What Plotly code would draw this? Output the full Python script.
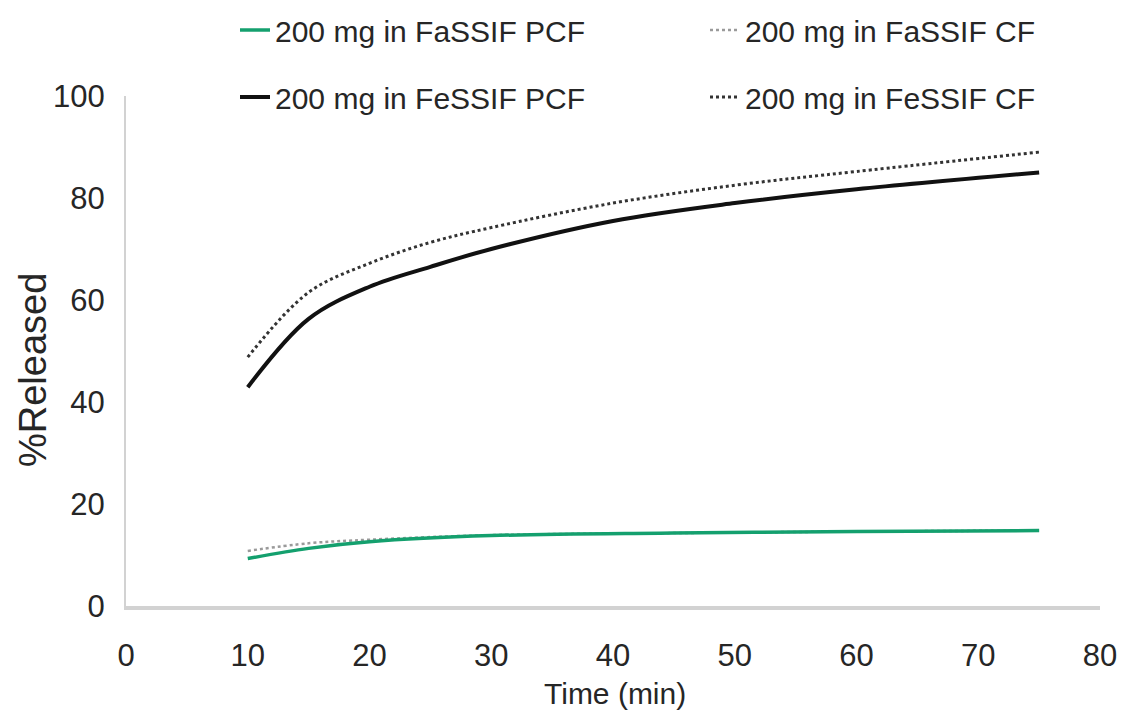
import plotly.graph_objects as go

time_fassif = [10, 15, 20, 30, 45, 60, 75]
fassif_pcf = [9.3, 11.3, 12.6, 13.8, 14.3, 14.6, 14.8]
fassif_cf = [10.8, 12.3, 13.0, 13.9, 14.3, 14.6, 14.8]

time_fessif = [10, 15, 20, 25, 30, 40, 50, 60, 75]
fessif_pcf = [42.9, 56.3, 62.6, 66.5, 70.0, 75.5, 79.0, 81.7, 85.0]
fessif_cf = [48.8, 61.5, 67.2, 71.3, 74.2, 79.0, 82.5, 85.2, 89.0]

x_ticks = [0, 10, 20, 30, 40, 50, 60, 70, 80]
y_ticks = [0, 20, 40, 60, 80, 100]

FONT = "Liberation Sans, Arial"
TXT = "#262626"

fig = go.Figure()
fig.add_trace(go.Scatter(x=time_fassif, y=fassif_cf, mode="lines", name="200 mg in FaSSIF CF",
                         line=dict(color="#9a9a9a", width=2.5, dash="dot", shape="spline"), legend="legend"))
fig.add_trace(go.Scatter(x=time_fassif, y=fassif_pcf, mode="lines", name="200 mg in FaSSIF PCF",
                         line=dict(color="#14a06e", width=3.5, shape="spline"), legend="legend", legendrank=1))
fig.add_trace(go.Scatter(x=time_fessif, y=fessif_cf, mode="lines", name="200 mg in FeSSIF CF",
                         line=dict(color="#333333", width=3, dash="dot", shape="spline"), legend="legend2"))
fig.add_trace(go.Scatter(x=time_fessif, y=fessif_pcf, mode="lines", name="200 mg in FeSSIF PCF",
                         line=dict(color="#111111", width=4, shape="spline"), legend="legend2", legendrank=1))

leg_common = dict(orientation="h", xref="container", yref="container", xanchor="left", yanchor="middle",
                  font=dict(family=FONT, size=30, color=TXT), entrywidthmode="pixels", entrywidth=425,
                  bgcolor="rgba(0,0,0,0)", traceorder="normal")

fig.update_layout(
    width=1122, height=717,
    margin=dict(l=126, r=22, t=96, b=111, autoexpand=False),
    paper_bgcolor="white", plot_bgcolor="white",
    font=dict(family=FONT, size=30, color=TXT),
    legend=dict(x=235/1122, y=1 - 30/717, **leg_common),
    legend2=dict(x=235/1122, y=1 - 97/717, **leg_common),
    xaxis=dict(range=[0, 80], tickvals=x_ticks, showgrid=False, zeroline=False,
               showline=True, linecolor="#d2d2d2", linewidth=4, ticks="",
               tickfont=dict(family=FONT, size=31, color=TXT), ticklabelstandoff=19),
    yaxis=dict(range=[0, 100], tickvals=y_ticks, showgrid=False, zeroline=False,
               showline=True, linecolor="#d2d2d2", linewidth=2, ticks="",
               tickfont=dict(family=FONT, size=31, color=TXT), ticklabelstandoff=13),
    annotations=[
        dict(text="%Released", textangle=-90, xref="paper", yref="paper",
             x=-(126 - 33) / 974, y=(606 - 370) / 510, showarrow=False,
             xanchor="center", yanchor="middle",
             font=dict(family=FONT, size=38, color=TXT)),
        dict(text="Time (min)", xref="paper", yref="paper",
             x=(615 - 126) / 974, y=-(693 - 606) / 510, showarrow=False,
             xanchor="center", yanchor="middle",
             font=dict(family=FONT, size=30, color=TXT)),
    ],
)

fig.write_html("out.html")
